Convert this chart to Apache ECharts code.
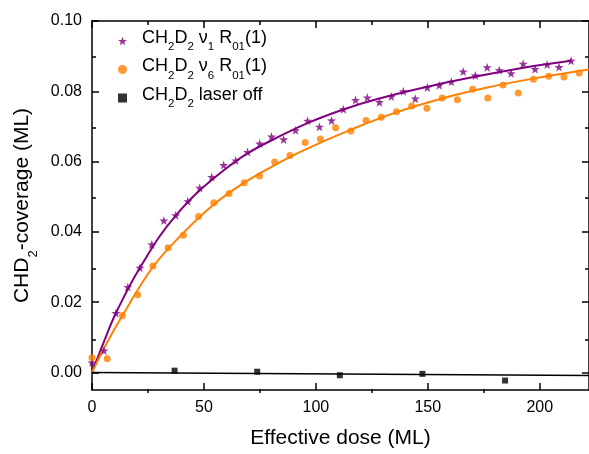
<!DOCTYPE html>
<html>
<head>
<meta charset="utf-8">
<script src="https://cdn.jsdelivr.net/npm/echarts@6/dist/echarts.min.js"></script>
<style>
  html, body { margin: 0; padding: 0; background: #fff; }
  #main { width: 589px; height: 454px; }
</style>
</head>
<body>
<div id="main"></div>
<script>
// CH2D2 nu1 R01(1) data points
const nu1Dose = [0, 5.35, 10.7, 16.0, 21.4, 26.7, 32.1, 37.4, 42.8, 48.1, 53.5, 58.8, 64.2, 69.5, 74.9, 80.2, 85.6, 90.9, 96.3, 101.6,
  107.0, 112.3, 117.7, 123.0, 128.4, 133.7, 139.1, 144.4, 149.8, 155.1, 160.5, 165.8, 171.2, 176.5, 181.9, 187.2, 192.6, 197.9, 203.3, 208.6, 214.0];
const nu1Cov = [0.0028, 0.0062, 0.0169, 0.0243, 0.0298, 0.0364, 0.0432, 0.0447, 0.0487, 0.0525, 0.0556, 0.0590, 0.0603, 0.0627, 0.0651, 0.0671, 0.0663, 0.0689, 0.0716, 0.0699,
  0.0717, 0.0749, 0.0775, 0.0782, 0.0769, 0.0785, 0.0800, 0.0779, 0.0811, 0.0817, 0.0827, 0.0856, 0.0845, 0.0868, 0.0860, 0.0851, 0.0878, 0.0863, 0.0876, 0.0869, 0.0887];

// CH2D2 nu6 R01(1) data points
const nu6Dose = [0, 6.8, 13.6, 20.4, 27.2, 34.0, 40.8, 47.6, 54.4, 61.2, 68.0, 74.8, 81.6, 88.4, 95.2, 102.0, 108.8, 115.6, 122.4, 129.2,
  136.0, 142.8, 149.6, 156.4, 163.2, 170.0, 176.8, 183.6, 190.4, 197.2, 204.0, 210.8, 217.6];
const nu6Cov = [0.0042, 0.0039, 0.0162, 0.0221, 0.0303, 0.0355, 0.0390, 0.0444, 0.0483, 0.0509, 0.0540, 0.0559, 0.0599, 0.0617, 0.0654, 0.0664, 0.0696, 0.0687, 0.0717, 0.0726,
  0.0742, 0.0758, 0.0752, 0.0781, 0.0776, 0.0806, 0.0781, 0.0818, 0.0795, 0.0834, 0.0843, 0.0841, 0.0852];

// laser off
const offDose = [36.9, 73.8, 110.7, 147.6, 184.5];
const offCov = [0.0005, 0.0002, -0.0008, -0.0004, -0.0023];

// fit curves
const nu1FitDose = [0, 5.35, 10.7, 21.4, 37.5, 59, 80, 112.6, 150, 192, 214];
const nu1FitCov = [0, 0.0088, 0.0169, 0.0298, 0.0447, 0.0576, 0.0660, 0.0749, 0.0813, 0.0866, 0.0887];
const nu6FitDose = [0, 6.8, 13.6, 27.2, 40.8, 54.4, 68, 81.6, 95.2, 115.4, 135.8, 156, 176, 197, 222];
const nu6FitCov = [0, 0.0086, 0.0162, 0.0300, 0.0397, 0.0478, 0.0540, 0.0590, 0.0634, 0.0690, 0.0740, 0.0779, 0.0810, 0.0836, 0.0862];
const offFitDose = [0, 222];
const offFitCov = [0, -0.0009];

// ticks
const xMajor = [0, 50, 100, 150, 200];
const xMinor = [25, 75, 125, 175];
const yMajor = [0, 0.02, 0.04, 0.06, 0.08, 0.10];
const yMinor = [0.01, 0.03, 0.05, 0.07, 0.09];

const PURPLE = '#800080';
const ORANGE = '#ff8000';
const STAR = 'path://M0,-10L2.35,-3.24L9.51,-3.09L3.8,1.24L5.88,8.09L0,4L-5.88,8.09L-3.8,1.24L-9.51,-3.09L-2.35,-3.24Z';

const zip = (xs, ys) => xs.map((x, i) => [x, ys[i]]);

const legendRich = {
  '0': '{g| }{m|CH}{s|2}{m|D}{s|2}{m| ν}{s|1}{m| R}{s|01}{m|(1)}',
  '1': '{g| }{m|CH}{s|2}{m|D}{s|2}{m| ν}{s|6}{m| R}{s|01}{m|(1)}',
  '2': '{g| }{m|CH}{s|2}{m|D}{s|2}{m| laser off}'
};
const names = ['nu1', 'nu6', 'off'];

const X_MAX = 222, Y_MIN = -0.005, Y_MAX = 0.1;

function lineOpt(show) {
  return show ? { show: true, onZero: false, lineStyle: { color: '#000', width: 1.5 } } : { show: false, onZero: false };
}
function xAx(grid, pos, ticks, len, withLine, labels) {
  return {
    type: 'value', gridIndex: grid, position: pos, min: 0, max: X_MAX,
    axisLine: lineOpt(withLine),
    axisTick: { show: true, inside: true, length: len, customValues: ticks, lineStyle: { color: '#000', width: 1.5 } },
    axisLabel: labels ? { show: true, customValues: ticks, color: '#000', fontSize: 16, fontFamily: 'Liberation Sans', margin: 10 } : { show: false },
    splitLine: { show: false }
  };
}
function yAx(grid, pos, ticks, len, withLine, labels) {
  return {
    type: 'value', gridIndex: grid, position: pos, min: Y_MIN, max: Y_MAX,
    axisLine: lineOpt(withLine),
    axisTick: { show: true, inside: true, length: len, customValues: ticks, lineStyle: { color: '#000', width: 1.5 } },
    axisLabel: labels ? { show: true, customValues: ticks, color: '#000', fontSize: 16, fontFamily: 'Liberation Sans', margin: 10,
      formatter: v => v.toFixed(2) } : { show: false },
    splitLine: { show: false }
  };
}

const xAxes = [
  xAx(0, 'bottom', xMajor, 7, true, true),
  xAx(0, 'top', xMajor, 7, true, false),
  xAx(1, 'bottom', xMinor, 4, false, false),
  xAx(1, 'top', xMinor, 4, false, false)
];
xAxes[0].name = 'Effective dose (ML)';
xAxes[0].nameLocation = 'middle';
xAxes[0].nameGap = 38;
xAxes[0].nameTextStyle = { color: '#000', fontSize: 21, fontFamily: 'Liberation Sans' };

const yAxes = [
  yAx(0, 'left', yMajor, 7, true, true),
  yAx(0, 'right', yMajor, 7, true, false),
  yAx(1, 'left', yMinor, 4, false, false),
  yAx(1, 'right', yMinor, 4, false, false)
];
yAxes[0].name = '{m|CHD}{s|2}{m|-coverage (ML)}';
yAxes[0].nameLocation = 'middle';
yAxes[0].nameGap = 50;
yAxes[0].nameTextStyle = {
  color: '#000', fontFamily: 'Liberation Sans',
  rich: {
    m: { fontSize: 21, lineHeight: 28, verticalAlign: 'top', color: '#000', fontFamily: 'Liberation Sans' },
    s: { fontSize: 13, lineHeight: 14, verticalAlign: 'bottom', color: '#000', fontFamily: 'Liberation Sans' }
  }
};

const chart = echarts.init(document.getElementById('main'), null, { renderer: 'canvas' });
chart.setOption({
  animation: false,
  backgroundColor: '#fff',
  grid: [
    { left: 92, top: 21, right: -1, bottom: 61 },
    { left: 92, top: 21, right: -1, bottom: 61 }
  ],
  legend: {
    orient: 'vertical', left: 118, top: 29, padding: 0, itemGap: 4.5,
    itemWidth: 9, itemHeight: 9,
    data: [
      { name: 'nu1', icon: STAR },
      { name: 'nu6', icon: 'circle' },
      { name: 'off', icon: 'rect' }
    ],
    formatter: name => legendRich[names.indexOf(name)],
    textStyle: {
      rich: {
        g: { width: 10, fontSize: 18 },
        m: { fontSize: 18, lineHeight: 24, verticalAlign: 'top', color: '#000', fontFamily: 'Liberation Sans' },
        s: { fontSize: 11.5, lineHeight: 12, verticalAlign: 'bottom', color: '#000', fontFamily: 'Liberation Sans' }
      }
    }
  },
  xAxis: xAxes,
  yAxis: yAxes,
  series: [
    { name: 'nu1fit', type: 'line', data: zip(nu1FitDose, nu1FitCov), smooth: 0.4, showSymbol: false,
      lineStyle: { color: PURPLE, width: 2 }, itemStyle: { color: PURPLE }, z: 2 },
    { name: 'nu6fit', type: 'line', data: zip(nu6FitDose, nu6FitCov), smooth: 0.4, showSymbol: false,
      lineStyle: { color: ORANGE, width: 2 }, itemStyle: { color: ORANGE }, z: 2 },
    { name: 'offfit', type: 'line', data: zip(offFitDose, offFitCov), showSymbol: false,
      lineStyle: { color: '#000', width: 1.5 }, itemStyle: { color: '#000' }, z: 2 },
    { name: 'nu1', type: 'scatter', data: zip(nu1Dose, nu1Cov), symbol: STAR, symbolSize: 9,
      itemStyle: { color: PURPLE }, z: 3 },
    { name: 'nu6', type: 'scatter', data: zip(nu6Dose, nu6Cov), symbol: 'circle', symbolSize: 7,
      itemStyle: { color: ORANGE }, z: 3 },
    { name: 'off', type: 'scatter', data: zip(offDose, offCov), symbol: 'rect', symbolSize: 6,
      itemStyle: { color: '#000' }, z: 3 }
  ]
});
</script>
</body>
</html>
